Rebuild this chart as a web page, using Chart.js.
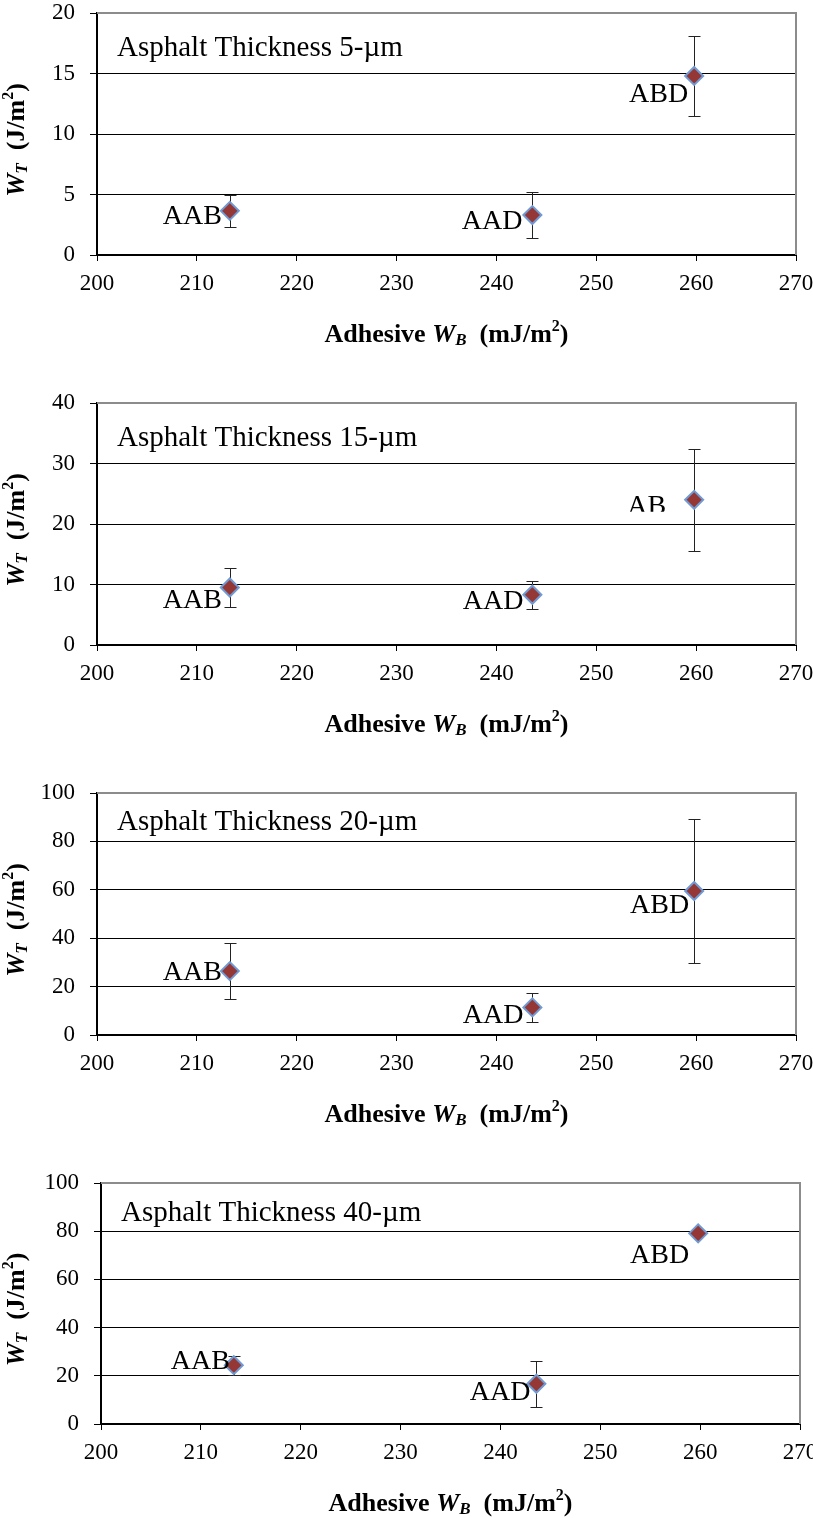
<!DOCTYPE html>
<html lang="en">
<head>
<meta charset="UTF-8">
<title>W_T vs adhesive W_B</title>
<script src="https://cdn.jsdelivr.net/npm/chart.js"></script>
<style>
  body { margin: 0; background: #fff; }
  .panel { position: relative; width: 813px; height: 390px; }
  .panel.last { height: 348px; }
</style>
</head>
<body>
<div class="panel"><canvas id="c5"></canvas></div>
<div class="panel"><canvas id="c15"></canvas></div>
<div class="panel"><canvas id="c20"></canvas></div>
<div class="panel last"><canvas id="c40"></canvas></div>
<script>
// data
const binders = ['AAB', 'AAD', 'ABD'];
const adhesiveWB = [213.3, 243.6, 259.8];

const wt5 = [3.65, 3.3, 14.8];
const err5 = [1.3, 1.9, 3.3];
const wt15 = [9.5, 8.3, 24.0];
const err15 = [3.2, 2.3, 8.4];
const wt20 = [26.4, 11.4, 59.5];
const err20 = [11.7, 6.0, 29.9];
const wt40 = [24.4, 16.7, 79.1];
const err40 = [4.0, 9.6, 0];

const xMin = 200, xMax = 270, xStep = 10;

const SERIF = '"Liberation Serif", "Times New Roman", serif';

const panels = [
  { id: 'c5',  title: 'Asphalt Thickness 5-\u00b5m',  values: wt5,  errors: err5,  yMax: 20,  yStep: 5,
    names: binders, left: 97, right: 17, textDy: 35,
    shift: [[-8, 6], [-10, 7], [-6, 19]], clip: [null, null, null] },
  { id: 'c15', title: 'Asphalt Thickness 15-\u00b5m', values: wt15, errors: err15, yMax: 40,  yStep: 10,
    names: ['AAB', 'AAD', 'AB'], left: 97, right: 17, textDy: 35,
    shift: [[-8, 13], [-9, 7], [-28, 7]], clip: [null, null, 12] },
  { id: 'c20', title: 'Asphalt Thickness 20-\u00b5m', values: wt20, errors: err20, yMax: 100, yStep: 20,
    names: binders, left: 97, right: 17, textDy: 29,
    shift: [[-8, 2], [-9, 8], [-5, 15]], clip: [null, null, null] },
  { id: 'c40', title: 'Asphalt Thickness 40-\u00b5m', values: wt40, errors: err40, yMax: 100, yStep: 20,
    names: binders, left: 101, right: 13, textDy: 30,
    shift: [[-4, -4], [-6, 9], [-9, 22]], clip: [null, null, null] }
];

// draw a run of text pieces with different fonts / offsets, centred on x
function drawRich(ctx, parts, x, y) {
  let total = 0;
  parts.forEach(p => { ctx.font = p.font; total += ctx.measureText(p.text).width; });
  let cx = x - total / 2;
  ctx.textBaseline = 'middle';
  ctx.textAlign = 'left';
  parts.forEach(p => {
    ctx.font = p.font;
    ctx.fillText(p.text, cx, y + (p.dy || 0));
    cx += ctx.measureText(p.text).width;
  });
}

const B = 'bold 26px ' + SERIF;
const BI = 'italic bold 26px ' + SERIF;
const SUB = 'italic bold 17px ' + SERIF;
const SUP = 'bold 16px ' + SERIF;

const extras = {
  id: 'extras',
  beforeDatasetsDraw(chart, args, opts) {
    const ctx = chart.ctx, xs = chart.scales.x, ys = chart.scales.y;
    ctx.save();
    ctx.strokeStyle = '#222';
    ctx.lineWidth = 1;
    opts.values.forEach((v, i) => {
      const e = opts.errors[i];
      if (!e) return;
      const px = Math.round(xs.getPixelForValue(adhesiveWB[i])) + 0.5;
      const top = Math.round(ys.getPixelForValue(v + e)) + 0.5;
      const bot = Math.round(ys.getPixelForValue(v - e)) + 0.5;
      ctx.beginPath();
      ctx.moveTo(px, top); ctx.lineTo(px, bot);
      ctx.moveTo(px - 6, top); ctx.lineTo(px + 6, top);
      ctx.moveTo(px - 6, bot); ctx.lineTo(px + 6, bot);
      ctx.stroke();
    });
    ctx.restore();
  },
  afterDatasetsDraw(chart, args, opts) {
    const ctx = chart.ctx, xs = chart.scales.x, ys = chart.scales.y;
    ctx.save();
    ctx.fillStyle = '#000';
    ctx.font = '28px ' + SERIF;
    ctx.textAlign = 'right';
    ctx.textBaseline = 'middle';
    opts.values.forEach((v, i) => {
      const px = xs.getPixelForValue(adhesiveWB[i]);
      const py = ys.getPixelForValue(v);
      const [dx, dy] = opts.shift[i];
      ctx.save();
      if (opts.clip[i] !== null) {
        ctx.beginPath();
        ctx.rect(px - 200, py - 200, 400, 200 + opts.clip[i]);
        ctx.clip();
      }
      ctx.fillText(opts.names[i], px + dx, py + dy);
      ctx.restore();
    });
    ctx.restore();
  },
  afterDraw(chart, args, opts) {
    const ctx = chart.ctx, a = chart.chartArea;
    ctx.save();
    // grey frame on top and right
    ctx.strokeStyle = '#8c8c8c';
    ctx.lineWidth = 2;
    ctx.beginPath();
    ctx.moveTo(a.left, a.top); ctx.lineTo(a.right, a.top); ctx.lineTo(a.right, a.bottom);
    ctx.stroke();
    // panel caption
    ctx.fillStyle = '#000';
    ctx.font = '29px ' + SERIF;
    ctx.textAlign = 'left';
    ctx.textBaseline = 'middle';
    ctx.fillText(opts.title, a.left + 20, a.top + opts.textDy);
    // x axis title
    drawRich(ctx, [
      { text: 'Adhesive ', font: B },
      { text: 'W', font: BI },
      { text: 'B', font: SUB, dy: 6 },
      { text: '  (mJ/m', font: B },
      { text: '2', font: SUP, dy: -8 },
      { text: ')', font: B }
    ], (a.left + a.right) / 2, a.bottom + 80);
    // y axis title
    ctx.translate(17, (a.top + a.bottom) / 2 + 6);
    ctx.rotate(-Math.PI / 2);
    drawRich(ctx, [
      { text: 'W', font: BI },
      { text: 'T', font: SUB, dy: 6 },
      { text: '  (J/m', font: B },
      { text: '2', font: SUP, dy: -8 },
      { text: ')', font: B }
    ], 0, 0);
    ctx.restore();
  }
};

panels.forEach(p => {
  const height = p.id === 'c40' ? 348 : 390;
  const bottom = p.id === 'c40' ? 254 : 255;
  new Chart(document.getElementById(p.id), {
    type: 'scatter',
    data: {
      datasets: [{
        data: adhesiveWB.map((x, i) => ({ x: x, y: p.values[i] })),
        pointStyle: 'rectRot',
        pointRadius: 9,
        pointHoverRadius: 9,
        backgroundColor: '#953735',
        borderColor: '#6f9ad3',
        borderWidth: 2
      }]
    },
    options: {
      responsive: true,
      maintainAspectRatio: false,
      animation: false,
      events: [],
      layout: { padding: { left: 0, top: 13, right: p.right, bottom: 0 } },
      plugins: {
        legend: { display: false },
        tooltip: { enabled: false },
        extras: p
      },
      scales: {
        x: {
          type: 'linear',
          min: xMin, max: xMax,
          afterBuildTicks: s => { s.ticks = []; for (let v = xMin; v <= xMax; v += xStep) s.ticks.push({ value: v }); },
          afterFit: s => { s.height = height - bottom; s.paddingLeft = 0; s.paddingRight = 0; },
          ticks: { color: '#000', font: { family: SERIF, size: 23 }, padding: 9, maxRotation: 0 },
          grid: { drawOnChartArea: false, tickLength: 6, color: '#000' },
          border: { color: '#000', width: 2 }
        },
        y: {
          min: 0, max: p.yMax,
          afterFit: s => { s.width = p.left; s.paddingTop = 0; s.paddingBottom = 0; },
          ticks: { stepSize: p.yStep, color: '#000', font: { family: SERIF, size: 23 }, padding: 15 },
          grid: { color: '#000', lineWidth: 1, tickLength: 7 },
          border: { color: '#000', width: 2 }
        }
      }
    },
    plugins: [extras]
  });
});
</script>
</body>
</html>
